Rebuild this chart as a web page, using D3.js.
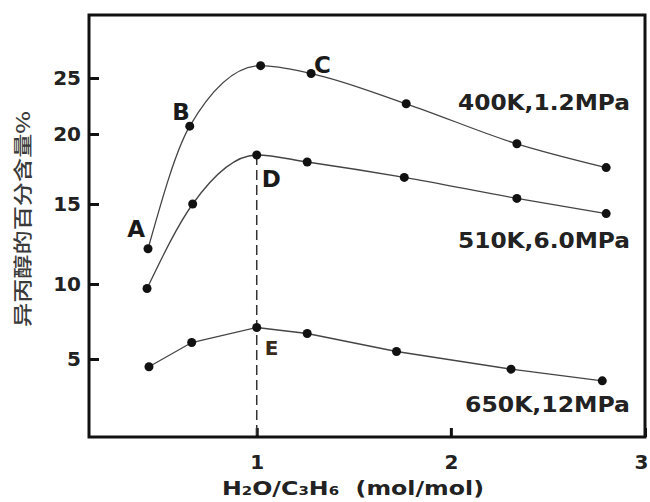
<!DOCTYPE html>
<html>
<head>
<meta charset="utf-8">
<script src="https://cdn.jsdelivr.net/npm/d3@7"></script>
<style>
  body { margin: 0; background: #fff; }
  #graf { width: 650px; height: 502px; }
  text { font-family: 'DejaVu Sans', sans-serif; }
</style>
</head>
<body>
<div id="graf"></div>
<script>
// I. Datos

xTicks = [1, 2, 3]
yTicks = [5, 10, 15, 20, 25]

nombres = ['400K,1.2MPa', '510K,6.0MPa', '650K,12MPa']

x400 = [0.44, 0.655, 1.02, 1.28, 1.77, 2.34, 2.80]
y400 = [12.2, 20.7, 26.1, 25.4, 22.7, 19.3, 17.6]

x510 = [0.435, 0.67, 1.0, 1.26, 1.76, 2.34, 2.80]
y510 = [9.7, 15.0, 18.5, 18.0, 16.9, 15.4, 14.4]

x650 = [0.445, 0.665, 1.0, 1.26, 1.72, 2.31, 2.78]
y650 = [4.5, 6.1, 7.1, 6.7, 5.5, 4.35, 3.6]

// letra -> [serie, punto]
letras = ['A', 'B', 'C', 'D', 'E']
letrasPunto = [[0, 0], [0, 1], [0, 3], [1, 2], [2, 2]]

// II. Configuracion

ancho_total = 650
alto_total = 502
margins = { top: 15, left: 89, right: 5, bottom: 65 }
ancho = ancho_total - margins.left - margins.right
alto = alto_total - margins.top - margins.bottom

svg = d3.select('#graf').append('svg')
        .attr('width', ancho_total)
        .attr('height', alto_total)

g = svg.append('g')
        .attr('transform', `translate(${ margins.left }, ${ margins.top })`)

x = d3.scaleLinear()
        .domain([0.136, 3])
        .range([0, ancho])

// el eje original no esta espaciado de forma uniforme
y = d3.scaleLinear()
        .domain([0, 5, 10, 15, 20, 25])
        .range([alto, 344, 269, 189, 119, 63])

series = nombres.map((n, i) => {
    xs = [x400, x510, x650][i]
    ys = [y400, y510, y650][i]
    return { nombre: n, puntos: xs.map((v, j) => ({ x: v, y: ys[j] })) }
})

curvas = [d3.curveMonotoneX, d3.curveMonotoneX, d3.curveLinear]

// III. Ejes

xAxisGroup = g.append('g')
        .attr('transform', `translate(0, ${ alto })`)
        .call(d3.axisBottom(x).tickValues(xTicks).tickFormat(d3.format('d')).tickSize(-9).tickPadding(18))
yAxisGroup = g.append('g')
        .call(d3.axisLeft(y).tickValues(yTicks).tickSize(-10).tickPadding(8))

g.selectAll('.domain').remove()
g.selectAll('.tick line').attr('stroke', '#111').attr('stroke-width', 3)
g.selectAll('.tick text')
        .attr('fill', '#222')
        .style('font-size', '20px')
        .style('font-weight', 'bold')

// el "3" queda al borde de la figura
xAxisGroup.selectAll('.tick text')
        .filter(d => d == 3)
        .attr('text-anchor', 'end')
        .attr('dx', '3px')

// linea punteada en x = 1
g.append('line')
        .attr('x1', x(1)).attr('x2', x(1))
        .attr('y1', y(y510[2])).attr('y2', alto)
        .attr('stroke', '#333')
        .attr('stroke-width', 1.5)
        .attr('stroke-dasharray', '10,5')

g.append('rect')
        .attr('width', ancho)
        .attr('height', alto)
        .attr('fill', 'none')
        .attr('stroke', '#111')
        .attr('stroke-width', 3)

// IV. Series

series.forEach((s, i) => {
    linea = d3.line()
            .x(d => x(d.x))
            .y(d => y(d.y))
            .curve(curvas[i])

    g.append('path')
        .datum(s.puntos)
        .attr('d', linea)
        .attr('fill', 'none')
        .attr('stroke', '#444')
        .attr('stroke-width', 1.3)

    g.selectAll('.p' + i)
        .data(s.puntos)
        .enter()
        .append('circle')
        .attr('class', 'p' + i)
        .attr('cx', d => x(d.x))
        .attr('cy', d => y(d.y))
        .attr('r', 4.5)
        .attr('fill', '#111')
})

// nombres de las curvas
etiquetaY = [95, 233, 397]
etiquetaAncho = [172, 172, 165]
g.selectAll('.nombre')
        .data(series)
        .enter()
        .append('text')
        .attr('class', 'nombre')
        .attr('x', ancho - 15)
        .attr('y', (d, i) => etiquetaY[i])
        .attr('text-anchor', 'end')
        .attr('textLength', (d, i) => etiquetaAncho[i])
        .attr('lengthAdjust', 'spacingAndGlyphs')
        .attr('fill', '#222')
        .style('font-size', '21px')
        .style('font-weight', 'bold')
        .text(d => d.nombre)

// letras A-E
offs = [[-3, -12, 'end'], [0, -6, 'end'], [3, -1, 'start'], [5, 32, 'start'], [8, 27, 'start']]
g.selectAll('.letra')
        .data(letras)
        .enter()
        .append('text')
        .attr('class', 'letra')
        .attr('x', (d, i) => x(series[letrasPunto[i][0]].puntos[letrasPunto[i][1]].x) + offs[i][0])
        .attr('y', (d, i) => y(series[letrasPunto[i][0]].puntos[letrasPunto[i][1]].y) + offs[i][1])
        .attr('text-anchor', (d, i) => offs[i][2])
        .attr('fill', (d, i) => i == 4 ? '#3a2a1a' : '#1a1a1a')
        .style('font-size', (d, i) => i == 4 ? '20px' : '23px')
        .style('font-weight', 'bold')
        .text(d => d)

// V. Titulos

xTitulo = g.append('text')
        .attr('x', 264)
        .attr('y', alto + 58)
        .attr('text-anchor', 'middle')
        .attr('textLength', 262)
        .attr('lengthAdjust', 'spacingAndGlyphs')
        .attr('fill', '#222')
        .style('font-size', '19px')
        .style('font-weight', 'bold')
xTitulo.append('tspan').text('H')
xTitulo.append('tspan').text('2').style('font-size', '12px')
xTitulo.append('tspan').text('O/C')
xTitulo.append('tspan').text('3').style('font-size', '12px')
xTitulo.append('tspan').text('H')
xTitulo.append('tspan').text('6').style('font-size', '12px')
xTitulo.append('tspan').text('\u00a0\u00a0(mol/mol)')

svg.append('text')
        .attr('transform', `translate(30, 219) rotate(-90)`)
        .attr('text-anchor', 'middle')
        .attr('textLength', 216)
        .attr('lengthAdjust', 'spacingAndGlyphs')
        .attr('fill', '#3a3a3a')
        .style('font-family', "'Noto Sans CJK SC', sans-serif")
        .style('font-size', '19px')
        .style('font-weight', 500)
        .text('异丙醇的百分含量%')
</script>
</body>
</html>
